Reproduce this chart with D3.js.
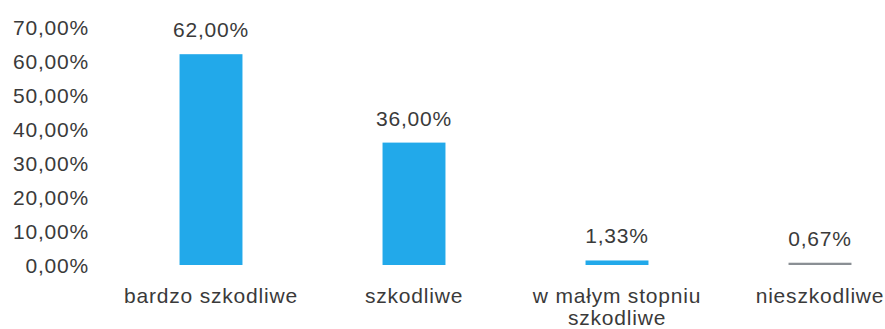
<!DOCTYPE html>
<html>
<head>
<meta charset="utf-8">
<script src="https://cdn.jsdelivr.net/npm/d3@7"></script>
<style>
  html, body { margin: 0; padding: 0; background: #fff; }
  svg { display: block; }
  text { font-family: "Liberation Sans", Arial, sans-serif; fill: #3a3a3a; letter-spacing: 0.8px; }
</style>
</head>
<body>
<svg id="chart" width="885" height="329"></svg>
<script>
// Shares of answers per category (percent)
const categories = [["bardzo szkodliwe"], ["szkodliwe"], ["w małym stopniu", "szkodliwe"], ["nieszkodliwe"]];
const values = [62.00, 36.00, 1.33, 0.67];
const barColors = ["#22a9ea", "#22a9ea", "#22a9ea", "#8a8f94"];
const tickValues = [0, 10, 20, 30, 40, 50, 60, 70];

const fmt = v => v.toFixed(2).replace(".", ",") + "%";

const svg = d3.select("#chart");
const fontSize = 21;

const y = d3.scaleLinear().domain([0, 70]).range([265, 27]);
const x = d3.scaleBand()
  .domain(d3.range(values.length))
  .range([109.5, 921.5])
  .paddingInner(0.69)
  .paddingOuter(0.345);

// Y axis: labels only, no line or ticks
const yAxis = d3.axisLeft(y).tickValues(tickValues).tickFormat(fmt).tickSize(0).tickPadding(0);
const gy = svg.append("g").attr("transform", "translate(89,0)").call(yAxis);
gy.select(".domain").remove();
gy.selectAll("text")
  .attr("font-size", fontSize)
  .attr("font-family", null)
  .attr("dy", "0.36em");

// Bars
svg.append("g").selectAll("rect")
  .data(values)
  .join("rect")
  .attr("x", (d, i) => x(i))
  .attr("width", x.bandwidth())
  .attr("y", d => y(d))
  .attr("height", d => y(0) - y(d))
  .attr("fill", (d, i) => barColors[i]);

// Value labels above bars
svg.append("g").selectAll("text")
  .data(values)
  .join("text")
  .attr("x", (d, i) => x(i) + x.bandwidth() / 2)
  .attr("y", d => y(d) - 17)
  .attr("text-anchor", "middle")
  .attr("font-size", fontSize)
  .text(d => fmt(d));

// Category labels
const cat = svg.append("g").selectAll("text")
  .data(categories)
  .join("text")
  .attr("x", (d, i) => x(i) + x.bandwidth() / 2)
  .attr("y", 303)
  .attr("text-anchor", "middle")
  .attr("font-size", fontSize);
cat.selectAll("tspan")
  .data(d => d)
  .join("tspan")
  .attr("x", function () { return d3.select(this.parentNode).attr("x"); })
  .attr("dy", (d, i) => i === 0 ? 0 : 22)
  .text(d => d);
</script>
</body>
</html>
